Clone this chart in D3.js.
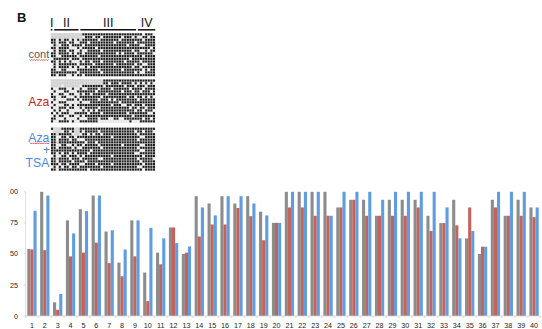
<!DOCTYPE html>
<html><head><meta charset="utf-8">
<script src="https://cdn.jsdelivr.net/npm/d3@7"></script>
<style>body{margin:0;background:#fff}svg{display:block;font-family:"Liberation Sans",Arial,Helvetica,sans-serif}</style>
</head><body><svg id="c" width="542" height="329"></svg>
<script>
// ---------- data ----------
const categories = ["1","2","3","4","5","6","7","8","9","10","11","12","13","14","15","16","17","18","19","20",
  "21","22","23","24","25","26","27","28","29","30","31","32","33","34","35","36","37","38","39","40"];
const seriesNames = ["cont","Aza","Aza+TSA"];
const contVals = [54,100,11,77,86,97,68,43,77,35, 51,71.3,50,96.5,90.6,96.5,90.6,96.5,84,75,
  100,100,100,100,87.4,93.6,93.6,80.7,93.6,93.6, 93.6,80.7,74.8,93.6,62.5,50,93.6,80.7,93.6,87.4];
const azaVals = [53.6,53,5,48,51,59,42.6,32,48,12, 41.6,71.3,51,64,73.7,73.7,87,80.4,61,75,
  87.4,87.4,80.7,80.7,87.4,93.6,80.7,80.7,80.7,80.7, 87.4,68.4,74.8,73,87.4,55.8,87.4,80.7,80.7,79.6];
const tsaVals = [84.7,97,17.7,66.5,84.5,97,69,53.6,77,71, 62.5,58.7,56,87.4,81,96.5,96.5,90.6,81,75,
  100,100,100,80.7,100,100,100,93.6,100,100, 100,100,87.4,62.5,68.4,55.8,100,100,100,87.4];
const yTicks = [0,25,50,75,100];
const regionLabels = ["I","II","III","IV"];
const regionFirst = ["1","2","12","34"];
const regionLast = ["1","11","33","40"];
const panelLabels = [["cont"],["Aza"],["Aza","+","TSA"]];

// methylation grids: one 16-cell string per CpG column (top to bottom); '#'=methylated, 'o'=unmethylated, '.'=no data
const contGrid = [
"..##o#o##o#oo###","..##############","..oo.oooo#oooo#o","..##o###o####o##","...#######o#####",
"..##############","..#o##o###o##o#o","..o#oo#o#o##oo#o","..###o####o##o##","..oo#ooo##o#oo#o",
"..#o##o#o#oo##o#","...##o###o##o###","#o##o#oo##o#o##o","######o#########","###o########o###",
"##########o#####","#o#########o####","#####o##########","##o#####o####o##","#o####o###o###o#",
"################","################","################","################","###o#######o####",
"#######o########","##o#############","#o#####o#####o##","##########o#####","####o###########",
"#########o######","#o####o#####o###","###o###o###o##o#","#o##############","#o##o#o###o#o#o#",
"o#o#o#o#o##o#oo#","###########o####","#o####o######o##","#####o##########","o######o########"];
const azaGrid = [
"...#o##o#o#o#o##","...o#o##o#o#o##o","...ooooooooo#ooo","...#o#oo#o##o#o#","..o#o##o#o#o##o#",
"...##o#o###o#o##","...o#oo#o#o##oo#","...oo#o#oo#oo#oo","...#o#o#o##oo#o#","...ooo#ooooo#ooo",
"...o#oo#o#oo#o#o","..o####o###o##o#","..#o#o##o#o##oo#","..#o####o##o##o#","..######o###o###",
"..###o#####o####","..##############","..##o######o####","..#o###o##o###oo","..####o#####o##o",
"##o############o","#####o#########o","#o#####o######oo","###o#####o####oo","#######o#######o",
"###############o","#o######o#####oo","####o####o####oo","##o######o#####o","######o#####o##o",
"###o######o#####","#o##o####o###o#o","##o###o####o###o","#o#####o##o####o","####o###########",
"#o#o##o##o#o##o#","##o#######o#####","#o####o#####o###","####o#######o#o#","#o####o####o####"];
const tsaGrid = [
"#o########o###o#","..##############","...oo.oo#oo.o#oo","..#o##o###o##o##","#o#######o####o#",
"################","###o##o###o##o##","#o##o#o##o#o##o#","##o####o####o###","...o##.##o######",
"...#o##o##o###o#","##o#o##o###o#o##","#o##o#o###o##o##","#####o######o###","##o######o#####o",
"########o#######","##o#############","#####o#######o##","#o####o####o####","##o####o###o##o#",
"################","################","################","###o######o##o##","################",
"################","################","######o#########","################","################",
"################","################","#o#######o######","##o#o##o#o#o##o#","###o##o#o###o#o#",
"#o#o##o#o#o##o#o","################","################","################","#o#########o####"];

// ---------- drawing ----------
const svg = d3.select("#c");
const FONT = '"Liberation Sans",Arial,Helvetica,sans-serif';

// panel letter
svg.append("text").attr("x",17).attr("y",22.3).attr("font-size",13).attr("font-weight","bold")
  .attr("fill","#111").text("B");

// methylation grids
const colX = d3.scaleBand().domain(categories).range([50.7,155.3]);
const rows = d3.range(16);
const panelTops = [33, 79.2, 127.4];
const grids = [contGrid, azaGrid, tsaGrid];
const cellFill = {"#":"#1e1e1e","o":"#f3f3f3",".":"#d2d2d2"};
grids.forEach((g,pi)=>{
  const ry = d3.scaleBand().domain(rows).range([panelTops[pi], panelTops[pi]+43.5]);
  const gp = svg.append("g");
  gp.append("rect").attr("x",colX.range()[0]).attr("y",panelTops[pi])
    .attr("width",colX.range()[1]-colX.range()[0]).attr("height",43.5).attr("fill","#dedede");
  const cells = [];
  g.forEach((s,ci)=>{
    const str = s.padEnd(16,"#").slice(0,16);
    rows.forEach(r=>cells.push({c:categories[ci], r, v:str[r]}));
  });
  gp.selectAll("rect.cell").data(cells).join("rect").attr("class","cell")
    .attr("x",d=>colX(d.c)+0.3).attr("y",d=>ry(d.r)+0.3)
    .attr("width",colX.bandwidth()-0.6).attr("height",ry.bandwidth()-0.6)
    .attr("fill",d=>cellFill[d.v]);
});

// region bars + labels
regionLabels.forEach((lab,i)=>{
  const x0 = colX(regionFirst[i]) + (i===0?0:0.9);
  const x1 = colX(regionLast[i]) + colX.bandwidth() - (i===3?0:0.9);
  svg.append("line").attr("x1",x0).attr("x2",x1).attr("y1",29.8).attr("y2",29.8)
    .attr("stroke","#111").attr("stroke-width",1.5);
  svg.append("text").attr("x",(x0+x1)/2 + (i===0?0.3:0)).attr("y",27.2).attr("text-anchor","middle")
    .attr("font-size",12.5).attr("fill","#111").text(lab);
});

// panel labels
const labColors = ["#5a5a5a","#cc1f1f","#4a86e0"];
const labLines = [[58],[106],[141.5,154,166.7]];
const labSizes = [[11],[12.2],[12.2,12,12.2]];
panelLabels.forEach((arr,pi)=>{
  arr.forEach((t,k)=>{
    svg.append("text").attr("x", t==="+" ? 46.5 : 49.3).attr("y",labLines[pi][k])
      .attr("text-anchor", t==="+" ? "middle" : "end")
      .attr("font-size",labSizes[pi][k]).attr("fill",labColors[pi]).text(t);
  });
});
// spell-check squiggles under "cont" and blue "Aza"
function squiggle(x0,x1,yy){
  const pts = d3.range(x0,x1+0.01,1.2).map((x,i)=>[x, yy + (i%2?1:-0.2)]);
  svg.append("path").attr("d",d3.line()(pts)).attr("fill","none").attr("stroke","#e23b3b").attr("stroke-width",0.8);
}
squiggle(29.5,49.5,59.6);
squiggle(30,49.5,143);

// ---------- bar chart ----------
const x = d3.scaleBand().domain(categories).range([25.6,540.4]).paddingInner(0.277).paddingOuter(0.13);
const xs = d3.scaleBand().domain(seriesNames).range([0,x.bandwidth()]);
const y = d3.scaleLinear().domain([0,100]).range([316,191.8]);
const colors = {"cont":"#8c8c8c","Aza":"#c5625a","Aza+TSA":"#5f9ddf"};
const seriesVals = {"cont":contVals,"Aza":azaVals,"Aza+TSA":tsaVals};

// axes lines
svg.append("line").attr("x1",25.6).attr("x2",25.6).attr("y1",y(100)).attr("y2",y(0))
  .attr("stroke","#d4d4d4").attr("stroke-width",0.8);
const yl = svg.append("g");
yTicks.forEach(t=>{
  svg.append("line").attr("x1",23.6).attr("x2",25.6).attr("y1",y(t)).attr("y2",y(t))
    .attr("stroke","#d4d4d4").attr("stroke-width",0.8);
});
svg.append("defs").append("clipPath").attr("id","lclip").append("rect")
  .attr("x",9.6).attr("y",180).attr("width",20).attr("height",149);
yl.attr("clip-path","url(#lclip)");
yl.selectAll("text").data(yTicks).join("text")
  .attr("x",18).attr("y",d=>y(d)).attr("dy","0.36em").attr("text-anchor","end")
  .attr("font-size",7.2).attr("fill","#222").text(d=>d);

// bars
const data = [];
categories.forEach((c,i)=>seriesNames.forEach(s=>data.push({c,s,v:seriesVals[s][i]})));
svg.append("g").selectAll("rect").data(data).join("rect")
  .attr("x",d=>x(d.c)+xs(d.s)).attr("width",xs.bandwidth())
  .attr("y",d=>y(d.v)).attr("height",d=>y(0)-y(d.v))
  .attr("fill",d=>colors[d.s]);

// x axis
svg.append("line").attr("x1",25.6).attr("x2",540.4).attr("y1",y(0)).attr("y2",y(0))
  .attr("stroke","#cfcfcf").attr("stroke-width",0.8);
const gap = x.step()-x.bandwidth();
const bounds = categories.map(c=>x(c)-gap/2).concat([540.4]);
svg.append("g").selectAll("line").data(bounds).join("line")
  .attr("x1",d=>d).attr("x2",d=>d).attr("y1",y(0)).attr("y2",y(0)+2.2)
  .attr("stroke","#cfcfcf").attr("stroke-width",0.8);
svg.append("g").selectAll("text").data(categories).join("text")
  .attr("x",d=>x(d)+x.bandwidth()/2).attr("y",328.3).attr("text-anchor","middle")
  .attr("font-size",7.2).attr("fill","#222").text(d=>d);
</script>
</body></html>
